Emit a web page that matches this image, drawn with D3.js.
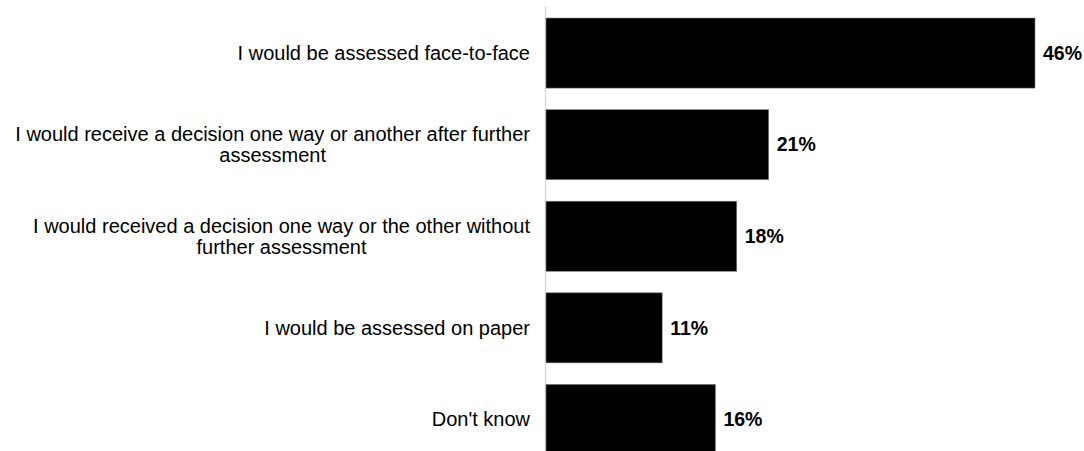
<!DOCTYPE html>
<html>
<head>
<meta charset="utf-8">
<script src="https://cdn.jsdelivr.net/npm/d3@7"></script>
<style>
  html, body { margin: 0; padding: 0; background: #fff; }
  svg { display: block; font-family: "Liberation Sans", Arial, sans-serif; }
</style>
</head>
<body>
<svg id="chart" width="1084" height="451"></svg>
<script>
// Responses, top to bottom; each label split into its display lines
const categories = [
  ["I would be assessed face-to-face"],
  ["I would receive a decision one way or another after further", "assessment"],
  ["I would received a decision one way or the other without", "further assessment"],
  ["I would be assessed on paper"],
  ["Don't know"]
];
const values = [46, 21, 18, 11, 16];
const valueLabels = ["46%", "21%", "18%", "11%", "16%"];

const svg = d3.select("#chart");
const x0 = 545;

const x = d3.scaleLinear().domain([0, 46]).range([x0, 1035]);
const y = d3.scaleBand()
  .domain(d3.range(categories.length))
  .range([7.5, 465])
  .paddingInner(0.235)
  .paddingOuter(0.115);

// vertical category axis line
svg.append("line")
  .attr("x1", x0 + 0.5).attr("x2", x0 + 0.5)
  .attr("y1", 7).attr("y2", 451)
  .attr("stroke", "#d9d9d9").attr("stroke-width", 1.5);

// bars
svg.selectAll("rect.bar")
  .data(values)
  .join("rect")
  .attr("class", "bar")
  .attr("x", x0 + 1)
  .attr("y", (d, i) => y(i))
  .attr("width", d => x(d) - x0 - 1)
  .attr("height", y.bandwidth())
  .attr("fill", "#000")
  .attr("stroke", "#7f7f7f")
  .attr("stroke-width", 0.6);

// value labels
svg.selectAll("text.val")
  .data(values)
  .join("text")
  .attr("class", "val")
  .attr("x", d => x(d) + 8)
  .attr("y", (d, i) => y(i) + y.bandwidth() / 2)
  .attr("dy", "0.35em")
  .attr("font-size", 19.5)
  .attr("font-weight", "bold")
  .attr("fill", "#000")
  .text((d, i) => valueLabels[i]);

// category labels: block right-aligned, lines centred within the block
const lineH = 21;
const labelRight = 530;
const fs = 20;
categories.forEach((lines, i) => {
  const cy = y(i) + y.bandwidth() / 2;
  const g = svg.append("g");
  const texts = lines.map((ln, k) => g.append("text")
    .attr("font-size", fs)
    .attr("fill", "#000")
    .attr("y", cy + (k - (lines.length - 1) / 2) * lineH)
    .attr("dy", "0.35em")
    .text(ln));
  const widths = texts.map(t => t.node().getComputedTextLength());
  const maxW = d3.max(widths);
  const centre = labelRight - maxW / 2;
  texts.forEach(t => t.attr("x", centre).attr("text-anchor", "middle"));
});
</script>
</body>
</html>
